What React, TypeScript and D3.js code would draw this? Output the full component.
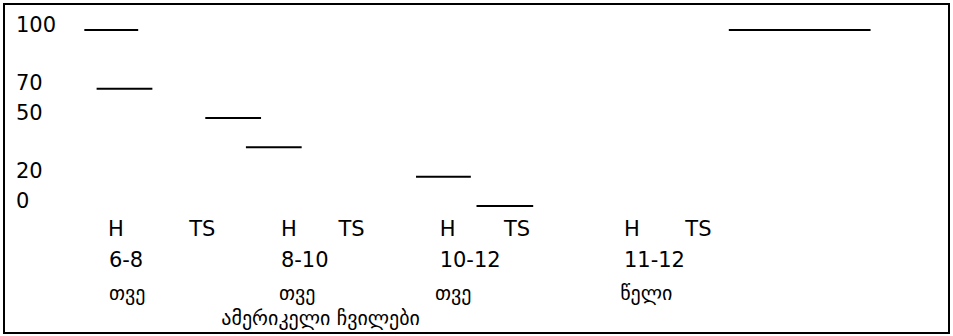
import React from "react";
import * as d3 from "d3";

// y-axis tick labels
const yTicks = [100, 70, 50, 20, 0];

// segments: group, series, value, start/end (x units)
const segGroup = ["6-8", "6-8", "8-10", "8-10", "10-12", "10-12", "11-12"];
const segSeries = ["H", "TS", "H", "TS", "H", "TS", "H+TS"];
const segValue = [100, 70, 50, 35, 20, 0, 100];
const segStart = [8.5, 9.8, 21.3, 25.6, 43.6, 50.0, 76.7];
const segEnd = [14.2, 15.7, 27.2, 31.5, 49.4, 56.0, 91.7];

// group labels
const groups = ["6-8", "8-10", "10-12", "11-12"];
const groupUnits = ["თვე", "თვე", "თვე", "წელი"];
const groupAnchor = [11.1, 29.3, 46.1, 65.6];
const hAnchor = [11.0, 29.3, 46.1, 65.6];
const tsAnchor = [19.6, 35.4, 52.9, 72.1];
const unitAnchor = [11.1, 29.1, 45.6, 65.2];
const title = "ამერიკელი ჩვილები";
const titleAnchor = 23.0;

const W = 953;
const H = 336;

export default function App() {
  const x = d3.scaleLinear().domain([0, 100]).range([4, 949]);
  const y = d3
    .scaleLinear()
    .domain([0, 20, 50, 70, 100])
    .range([206, 176.7, 118, 88.7, 30]);
  const font = "'DejaVu Sans', sans-serif";
  return (
    <svg
      width={W}
      height={H}
      style={{ position: "absolute", left: 0, top: 0, background: "#fff" }}
      fontFamily={font}
    >
      <rect x={4} y={4} width={945} height={329} fill="#fff" stroke="#000" strokeWidth={2} />
      {yTicks.map((t) => (
        <text key={t} x={16} y={y(t) + 1.5} fontSize={21} fill="#000">
          {t}
        </text>
      ))}
      {segValue.map((v, i) => (
        <line
          key={i}
          x1={x(segStart[i])}
          x2={x(segEnd[i])}
          y1={y(v)}
          y2={y(v)}
          stroke="#000"
          strokeWidth={2}
        />
      ))}
      {groups.map((g, i) => (
        <g key={g}>
          <text x={x(hAnchor[i])} y={236} fontSize={21}>H</text>
          <text x={x(tsAnchor[i])} y={236} fontSize={21}>TS</text>
          <text x={x(groupAnchor[i])} y={267} fontSize={21}>{g}</text>
          <text x={x(unitAnchor[i])} y={300} fontSize={20}>{groupUnits[i]}</text>
        </g>
      ))}
      <text x={x(titleAnchor)} y={325} fontSize={20}>{title}</text>
    </svg>
  );
}
